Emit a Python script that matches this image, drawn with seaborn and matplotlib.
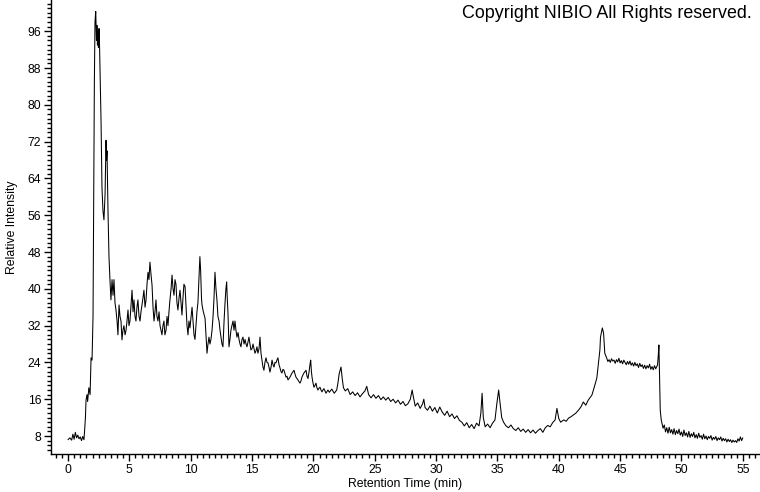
import matplotlib
matplotlib.use("Agg")
import matplotlib.pyplot as plt
from matplotlib.ticker import MultipleLocator
import seaborn as sns
import pandas as pd

# Retention time (min) and relative intensity
main_t = [
    0.0, 0.15, 0.3, 0.4, 0.5, 0.6, 0.7, 0.8, 0.9, 1.0, 1.1, 1.2, 1.3,
    1.35, 1.42, 1.47, 1.55, 1.6, 1.7, 1.8, 1.88, 1.96, 2.04, 2.1, 2.15, 2.2, 2.26,
    2.32, 2.36, 2.40, 2.44, 2.48, 2.53, 2.57, 2.61, 2.69, 2.77, 2.85, 2.93, 3.02,
    3.10, 3.14, 3.18, 3.26, 3.34, 3.42, 3.50, 3.59, 3.67, 3.75, 3.83, 3.91, 4.0,
    4.07, 4.16, 4.24, 4.32, 4.40, 4.48, 4.56, 4.65, 4.73, 4.81, 4.89, 4.97, 5.05,
    5.13, 5.22, 5.30, 5.38, 5.46, 5.54, 5.62, 5.70, 5.79, 5.87, 5.95, 6.03, 6.11,
    6.19, 6.28, 6.36, 6.44, 6.52, 6.60, 6.68, 6.77, 6.85, 6.93, 7.01, 7.09, 7.17,
    7.25, 7.33, 7.42, 7.50, 7.58, 7.66, 7.74, 7.82, 7.90, 7.99, 8.07, 8.15, 8.23,
    8.31, 8.40, 8.48, 8.56, 8.64, 8.72, 8.80, 8.88, 8.96, 9.05, 9.13, 9.21, 9.29,
    9.37, 9.45, 9.54, 9.62, 9.70, 9.78, 9.86, 9.94, 10.03, 10.11, 10.19, 10.27,
    10.35, 10.43, 10.51, 10.59, 10.67, 10.75, 10.81, 10.88, 10.92, 11.00, 11.08,
    11.17, 11.25, 11.33, 11.41, 11.49, 11.57, 11.65, 11.74, 11.82, 11.90, 11.98,
    12.06, 12.14, 12.22, 12.31, 12.39, 12.47, 12.55, 12.63, 12.72, 12.80, 12.87,
    12.93, 12.98, 13.04, 13.12, 13.20, 13.28, 13.36, 13.45, 13.53, 13.61, 13.69,
    13.77, 13.86, 13.94, 14.02, 14.10, 14.18, 14.26, 14.35, 14.43, 14.51, 14.59,
    14.67, 14.75, 14.83, 14.91, 15.00, 15.08, 15.16, 15.24, 15.32, 15.40, 15.48,
    15.57, 15.65, 15.73, 15.81, 15.89, 15.97, 16.05, 16.14, 16.22, 16.30, 16.38,
    16.46, 16.55, 16.63, 16.71, 16.79, 16.87, 16.95, 17.03, 17.11, 17.20, 17.28,
    17.36, 17.44, 17.52, 17.60, 17.69, 17.77, 17.85, 17.93, 18.01, 18.09, 18.18,
    18.26, 18.34, 18.42, 18.50, 18.58, 18.66, 18.74, 18.83, 18.91, 18.99, 19.07,
    19.15, 19.23, 19.32, 19.40, 19.48, 19.56, 19.65, 19.72, 19.78, 19.84, 19.89,
    19.97, 20.05, 20.13, 20.21, 20.29, 20.37, 20.46, 20.54, 20.62, 20.70, 20.78,
    20.86, 20.95, 21.03, 21.11, 21.19,
    21.3, 21.5, 21.7, 21.9, 22.0, 22.1, 22.25, 22.35, 22.45, 22.6, 22.8, 23.0,
    23.2, 23.4, 23.6, 23.8, 24.0, 24.2, 24.35, 24.5, 24.7, 24.9, 25.1, 25.3, 25.5,
    25.7, 25.9, 26.1, 26.3, 26.5, 26.7, 26.9, 27.1, 27.3, 27.5, 27.7, 27.9, 28.05,
    28.15, 28.3, 28.5, 28.7, 28.9, 29.0, 29.1, 29.3, 29.5, 29.7, 29.9, 30.1, 30.3,
    30.5, 30.7, 30.9, 31.1, 31.3, 31.5, 31.7, 31.9, 32.1, 32.3, 32.5, 32.7, 32.9,
    33.1, 33.3, 33.5, 33.65, 33.75, 33.85, 34.0, 34.2, 34.4, 34.6, 34.8, 34.95,
    35.1, 35.2, 35.35, 35.5, 35.7, 35.9, 36.1, 36.3, 36.5, 36.7, 36.9, 37.1, 37.3,
    37.5, 37.7, 37.9, 38.1, 38.3, 38.5, 38.7, 38.9, 39.1, 39.3, 39.5, 39.7, 39.85,
    40.0, 40.15, 40.4, 40.6, 40.8, 41.0, 41.2, 41.4, 41.6, 41.8, 42.0, 42.2, 42.4,
    42.7, 42.9, 43.1, 43.2, 43.35, 43.4, 43.55, 43.65, 43.75,
]
main_i = [
    7.2, 7.6, 7.1, 8.4, 7.3, 8.8, 7.6, 8.2, 7.4, 7.8, 7.0, 7.9, 7.2,
    9.0, 12.0, 15.8, 17.0, 15.5, 18.5, 17.0, 25.0, 24.5, 34.0, 60.0, 85.0, 98.0, 100.3,
    94.0, 97.3, 93.0, 96.0, 92.5, 96.6, 93.0, 88.0, 77.0, 62.0, 57.0, 55.0, 60.4,
    72.3, 68.0, 70.0, 57.0, 47.0, 42.0, 37.6, 42.0, 38.6, 42.0, 37.0, 35.4, 33.0,
    30.0, 36.5, 34.0, 33.0, 28.9, 31.0, 32.0, 30.0, 31.0, 33.0, 35.4, 32.0, 33.0,
    36.0, 39.7, 35.0, 37.6, 34.0, 33.0, 36.0, 37.6, 34.0, 33.0, 35.0, 36.5, 38.0,
    39.7, 36.0, 37.6, 41.0, 43.6, 42.0, 45.8, 43.0, 40.8, 36.0, 33.0, 35.0, 37.6,
    34.0, 33.0, 35.0, 32.0, 31.0, 30.0, 32.0, 33.0, 30.0, 31.0, 34.0, 32.0, 35.0,
    37.6, 40.0, 43.0, 40.0, 38.6, 42.0, 41.0, 37.0, 35.4, 38.0, 39.7, 37.0, 34.3,
    38.0, 41.0, 40.5, 36.0, 32.0, 30.0, 33.0, 31.5, 34.0, 36.0, 33.0, 30.0,
    29.0, 32.0, 35.0, 37.0, 42.0, 47.0, 44.0, 38.0, 36.6, 35.4, 34.5,
    33.6, 30.0, 26.0, 28.0, 29.5, 28.0, 29.0, 31.0, 33.9, 38.0, 43.6,
    40.0, 37.6, 34.0, 33.0, 31.0, 29.5, 28.0, 27.4, 33.0, 37.0, 40.0,
    41.5, 38.0, 34.7, 27.4, 29.0, 31.0, 32.0, 33.0, 31.0, 33.0, 31.0,
    29.5, 30.5, 29.0, 28.0, 27.4, 29.0, 29.5, 28.0, 29.0, 28.0, 27.4,
    28.5, 29.5, 28.0, 26.7, 27.0, 28.0, 27.0, 26.0, 26.5, 27.4, 26.0,
    27.0, 29.5, 26.0, 24.5, 23.0, 22.3, 24.0, 25.0, 24.0, 23.9, 23.0,
    21.9, 23.0, 24.5, 23.5, 23.0, 24.0, 23.9, 24.5, 25.0, 23.5, 22.8,
    22.0, 21.7, 22.5, 22.3, 21.5, 20.8, 21.0, 20.2, 20.5, 20.8, 21.3,
    21.7, 22.0, 22.3, 21.5, 20.8, 20.5, 20.2, 19.8, 19.5, 20.0, 20.8,
    21.3, 21.7, 22.0, 22.3, 21.0, 20.5, 22.0, 23.5, 24.5, 22.0, 20.8,
    19.5, 18.6, 19.0, 19.5, 18.5, 18.0, 18.4, 18.6, 18.0, 17.6, 18.0,
    18.3, 17.8, 17.3, 17.7, 18.0,
    17.5, 18.2, 17.3, 18.0, 19.5, 21.5, 23.0, 20.5, 18.5, 17.8, 18.3, 17.0,
    17.6, 16.8, 17.4, 16.5, 17.2, 17.8, 18.8, 17.0, 16.3, 17.0, 16.2, 16.8, 15.9,
    16.5, 15.8, 16.4, 15.5, 16.0, 15.2, 15.8, 14.9, 15.5, 14.6, 15.0, 16.0, 18.0,
    16.5, 14.5, 15.2, 14.0, 15.0, 16.0, 14.2, 13.6, 14.5, 13.4, 14.2, 13.0, 14.3,
    13.2, 12.5, 13.4, 12.2, 12.8, 11.8, 12.4, 11.4, 11.0, 10.2, 10.9, 9.8, 10.5,
    9.6, 10.8, 10.2, 13.0, 17.3, 12.0, 10.0, 10.6, 9.8, 10.8, 11.5, 15.0,
    18.0, 15.5, 12.0, 11.0, 10.2, 9.8, 10.4, 9.6, 9.2, 9.8, 9.0, 9.5, 8.8,
    9.4, 8.7, 9.3, 8.6, 9.2, 9.6, 8.8, 9.8, 10.3, 10.0, 10.9, 11.5, 14.0,
    11.8, 11.0, 11.5, 11.2, 11.9, 12.2, 12.6, 13.0, 13.6, 14.3, 15.4, 14.7, 15.8,
    16.9, 18.7, 20.6, 23.0, 26.7, 29.5, 31.5, 30.4, 26.0,
]
plateau_t = [
    43.9, 44.0, 44.1, 44.2, 44.3, 44.4, 44.5, 44.6, 44.7, 44.8, 44.9, 45.0,
    45.1, 45.2, 45.3, 45.4, 45.5, 45.6, 45.7, 45.8, 45.9, 46.0, 46.1, 46.2,
    46.3, 46.4, 46.5, 46.6, 46.7, 46.8, 46.9, 47.0, 47.1, 47.2, 47.3, 47.4,
    47.5, 47.6, 47.7, 47.8, 47.9, 48.0, 48.05,
]
plateau_i = [
    25.0, 24.2, 24.6, 24.0, 24.8, 24.3, 24.5, 23.8, 24.6, 24.1, 24.9, 23.9,
    24.4, 23.7, 24.5, 24.0, 23.5, 24.2, 23.6, 24.3, 23.4, 23.9, 23.2, 24.0,
    23.3, 23.7, 22.9, 23.8, 23.1, 23.5, 22.7, 23.4, 22.6, 23.3, 22.8, 23.6,
    22.5, 23.1, 22.4, 23.3, 22.6, 23.2, 23.4,
]
spike_t = [48.1, 48.16, 48.2, 48.27, 48.35]
spike_i = [25.2, 27.8, 23.0, 13.6, 11.5]
tail_t = [
    48.5, 48.6, 48.7, 48.8, 48.9, 49.0, 49.1, 49.2, 49.3, 49.4, 49.5, 49.6,
    49.7, 49.8, 49.9, 50.0, 50.1, 50.2, 50.3, 50.4, 50.5, 50.6, 50.7, 50.8,
    50.9, 51.0, 51.1, 51.2, 51.3, 51.4, 51.5, 51.6, 51.7, 51.8, 51.9, 52.0,
    52.1, 52.2, 52.3, 52.4, 52.5, 52.6, 52.7, 52.8, 52.9, 53.0, 53.1, 53.2,
    53.3, 53.4, 53.5, 53.6, 53.7, 53.8, 53.9, 54.0, 54.1, 54.2, 54.3, 54.4,
    54.5, 54.6, 54.7, 54.8, 54.9, 55.0,
]
tail_i = [
    9.7, 10.4, 8.9, 9.8, 8.6, 9.9, 8.7, 9.4, 8.4, 9.6, 8.3, 9.2,
    8.5, 9.5, 8.2, 8.9, 7.9, 9.3, 8.1, 8.7, 7.8, 9.0, 7.7, 8.5,
    7.9, 8.8, 7.6, 8.3, 7.5, 8.6, 7.7, 8.1, 7.3, 8.4, 7.4, 8.0,
    7.2, 7.9, 7.5, 8.1, 7.1, 7.7, 7.3, 7.9, 7.0, 7.6, 7.2, 7.8,
    6.9, 7.5, 7.0, 7.4, 6.7, 7.3, 6.8, 7.2, 6.6, 7.1, 6.7, 7.0,
    6.6, 7.4, 6.9, 7.8, 7.0, 7.6,
]

x_ticks = list(range(0, 56, 5))
y_ticks = list(range(8, 97, 8))

sns.set_style("ticks")
plt.rcParams["font.family"] = ["Liberation Sans", "DejaVu Sans"]

df = pd.DataFrame({
    "t": main_t + plateau_t + spike_t + tail_t,
    "I": main_i + plateau_i + spike_i + tail_i,
})

fig = plt.figure(figsize=(7.6, 4.92), dpi=100)
ax = fig.add_axes([51 / 760, (492 - 454) / 492, 1 - 51 / 760, 454 / 492])
sns.lineplot(data=df, x="t", y="I", ax=ax, color="black", linewidth=0.75,
             estimator=None, sort=False)

ax.set_xlim(-1.385, 56.4)
ax.set_ylim(4.09, 102.8)
ax.set_xticks(x_ticks)
ax.set_yticks(y_ticks)
ax.xaxis.set_minor_locator(MultipleLocator(0.5))
ax.yaxis.set_minor_locator(MultipleLocator(1))
ax.tick_params(which="major", direction="out", length=5, width=1, color="black",
               labelsize=8.8, pad=2, labelcolor="black")
ax.tick_params(which="minor", direction="out", length=3, width=1, color="black")
sns.despine(ax=ax)
for s in ["left", "bottom"]:
    ax.spines[s].set_color("black")
    ax.spines[s].set_linewidth(1)

ax.set_xlabel("Retention Time (min)", fontsize=8.8, labelpad=2, color="black")
ax.set_ylabel("Relative Intensity", fontsize=8.8, labelpad=7, color="black")

fig.text(462 / 760, 1 - 14 / 492, "Copyright NIBIO All Rights reserved.",
         fontsize=12.9, ha="left", va="center", color="black")

fig.savefig("out.png", dpi=100)
